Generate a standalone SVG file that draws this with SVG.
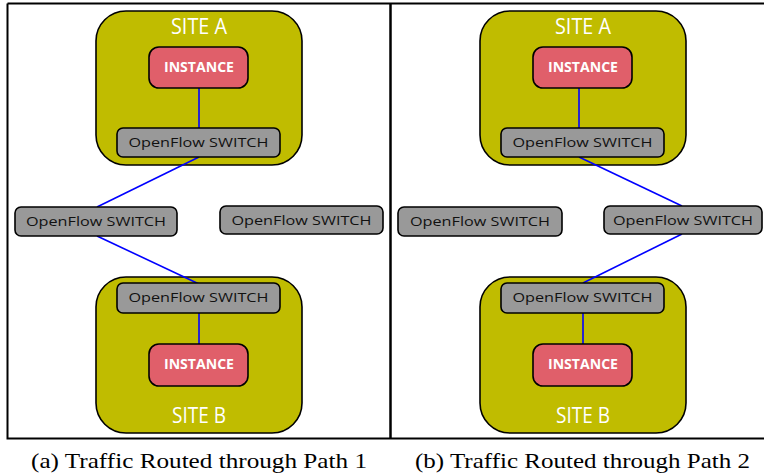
<svg xmlns="http://www.w3.org/2000/svg" width="764" height="474" viewBox="0 0 764 474">
<style>
.site{fill:#c0bc00;stroke:#000;stroke-width:1.6}
.inst{fill:#e05f6a;stroke:#000;stroke-width:1.6}
.sw{fill:#999;stroke:#000;stroke-width:1.6}
.sitet{font-family:"Open Sans","Liberation Sans",sans-serif;font-size:21px;fill:#fff;text-anchor:middle}
.instt{font-family:"Open Sans","Liberation Sans",sans-serif;font-weight:bold;font-size:14px;fill:#fff;text-anchor:middle}
.swt{font-family:"Open Sans","Liberation Sans",sans-serif;font-size:13px;fill:#111;text-anchor:middle}
.cap{font-family:"Liberation Serif","DejaVu Serif",serif;font-size:21px;fill:#000;text-anchor:middle}
.link{stroke:#0000ff;stroke-width:1.6;fill:none}
.frame{stroke:#000;fill:none}
</style>
<g id="frame">
<path class="frame" stroke-width="2" d="M7.5,3.5 H764 M7.5,3.5 V438.5 H764"/>
<line class="frame" x1="390.5" y1="3" x2="390.5" y2="439" stroke-width="2.5"/>
</g>
<g id="siteA-left">
<rect class="site" x="96" y="11" width="206" height="154" rx="30"/>
<text class="sitet" x="199" y="34" textLength="56" lengthAdjust="spacingAndGlyphs">SITE A</text>
</g>
<g id="siteB-left">
<rect class="site" x="96" y="277" width="206" height="156" rx="30"/>
<text class="sitet" x="199" y="423" textLength="54" lengthAdjust="spacingAndGlyphs">SITE B</text>
</g>
<g id="siteA-right">
<rect class="site" x="480" y="11" width="206" height="154" rx="30"/>
<text class="sitet" x="583" y="34" textLength="56" lengthAdjust="spacingAndGlyphs">SITE A</text>
</g>
<g id="siteB-right">
<rect class="site" x="480" y="277" width="206" height="156" rx="30"/>
<text class="sitet" x="583" y="423" textLength="54" lengthAdjust="spacingAndGlyphs">SITE B</text>
</g>
<g id="connectors">
<line class="link" x1="199" y1="88" x2="199" y2="128"/>
<line class="link" x1="199" y1="157" x2="97" y2="207"/>
<line class="link" x1="97" y1="236" x2="199" y2="284"/>
<line class="link" x1="199" y1="313" x2="199" y2="344"/>
<line class="link" x1="579" y1="88" x2="579" y2="128"/>
<line class="link" x1="579" y1="157" x2="682" y2="206"/>
<line class="link" x1="682" y1="234" x2="583" y2="283"/>
<line class="link" x1="583" y1="313" x2="583" y2="344"/>
</g>
<g id="instanceA-left">
<rect class="inst" x="149" y="47" width="99" height="41" rx="10"/>
<text class="instt" x="199" y="72" textLength="70" lengthAdjust="spacingAndGlyphs">INSTANCE</text>
</g>
<g id="switchA-left">
<rect class="sw" x="117" y="128" width="163" height="29" rx="6"/>
<text class="swt" x="198.5" y="146.5" textLength="140" lengthAdjust="spacingAndGlyphs">OpenFlow SWITCH</text>
</g>
<g id="switch1-left">
<rect class="sw" x="15" y="207" width="162" height="29" rx="6"/>
<text class="swt" x="96" y="225.5" textLength="140" lengthAdjust="spacingAndGlyphs">OpenFlow SWITCH</text>
</g>
<g id="switch2-left">
<rect class="sw" x="220" y="206" width="163" height="28" rx="6"/>
<text class="swt" x="301.5" y="224.5" textLength="140" lengthAdjust="spacingAndGlyphs">OpenFlow SWITCH</text>
</g>
<g id="switchB-left">
<rect class="sw" x="117" y="283" width="163" height="30" rx="6"/>
<text class="swt" x="198.5" y="302" textLength="140" lengthAdjust="spacingAndGlyphs">OpenFlow SWITCH</text>
</g>
<g id="instanceB-left">
<rect class="inst" x="149" y="344" width="99" height="42" rx="10"/>
<text class="instt" x="199" y="369" textLength="70" lengthAdjust="spacingAndGlyphs">INSTANCE</text>
</g>
<g id="instanceA-right">
<rect class="inst" x="533" y="47" width="99" height="41" rx="10"/>
<text class="instt" x="583" y="72" textLength="70" lengthAdjust="spacingAndGlyphs">INSTANCE</text>
</g>
<g id="switchA-right">
<rect class="sw" x="501" y="128" width="163" height="29" rx="6"/>
<text class="swt" x="582.5" y="146.5" textLength="140" lengthAdjust="spacingAndGlyphs">OpenFlow SWITCH</text>
</g>
<g id="switch1-right">
<rect class="sw" x="398" y="207" width="164" height="29" rx="6"/>
<text class="swt" x="480" y="225.5" textLength="140" lengthAdjust="spacingAndGlyphs">OpenFlow SWITCH</text>
</g>
<g id="switch2-right">
<rect class="sw" x="604" y="206" width="158" height="28" rx="6"/>
<text class="swt" x="683" y="224.5" textLength="140" lengthAdjust="spacingAndGlyphs">OpenFlow SWITCH</text>
</g>
<g id="switchB-right">
<rect class="sw" x="501" y="283" width="163" height="30" rx="6"/>
<text class="swt" x="582.5" y="302" textLength="140" lengthAdjust="spacingAndGlyphs">OpenFlow SWITCH</text>
</g>
<g id="instanceB-right">
<rect class="inst" x="533" y="344" width="99" height="42" rx="10"/>
<text class="instt" x="583" y="369" textLength="70" lengthAdjust="spacingAndGlyphs">INSTANCE</text>
</g>
<g id="captions">
<text class="cap" x="199" y="468" textLength="336" lengthAdjust="spacingAndGlyphs">(a) Traffic Routed through Path 1</text>
<text class="cap" x="582.5" y="468" textLength="335" lengthAdjust="spacingAndGlyphs">(b) Traffic Routed through Path 2</text>
</g>
</svg>
